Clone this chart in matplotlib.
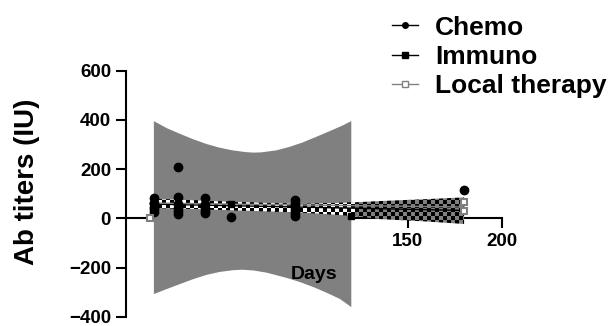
import numpy as np
import matplotlib
matplotlib.use("Agg")
import matplotlib.pyplot as plt
from matplotlib.lines import Line2D
from matplotlib.colors import ListedColormap

plt.rcParams['font.family'] = ['Liberation Sans', 'DejaVu Sans']
plt.rcParams['font.weight'] = 'bold'

# Chemo points (day, titer)
chemo_days = [15, 15, 15, 15, 15, 28, 28, 28, 28, 28, 28, 42, 42, 42, 42, 42, 56,
              90, 90, 90, 90, 90, 90, 180]
chemo_vals = [82, 62, 48, 36, 26, 210, 85, 58, 42, 28, 16, 82, 58, 42, 30, 20, 4,
              74, 60, 46, 34, 22, 10, 115]

# Immuno points
immuno_days = [15, 56, 120]
immuno_vals = [40, 58, 10]

# Local therapy points
local_days = [13, 180, 180]
local_vals = [0, 65, 30]

# gray confidence band
upper_days = [15, 22, 29, 36, 43, 50, 57, 64, 68, 72, 80, 87, 94, 101, 109, 115, 120]
band_upper = [395, 366, 343, 321, 302, 287, 276, 269, 267, 268, 276, 290, 308, 330,
              356, 376, 395]
lower_days = [15, 22, 29, 36, 43, 50, 57, 62, 68, 75, 86, 93, 100, 107, 114, 120]
band_lower = [-308, -287, -267, -247, -230, -218, -211, -209, -212, -221, -243, -260,
              -280, -303, -328, -361]

# checkered band
chk_days = [13, 30, 60, 93, 119, 135, 160, 180]
chk_upper = [78, 75, 66, 58, 64, 70, 78, 85]
chk_lower = [42, 40, 32, 24, 11, -3, -13, -23]

# regression lines
chemo_line_days = [13, 180]
chemo_line_vals = [58, 32]
local_line_days = [13, 180]
local_line_vals = [62, 46]

fig = plt.figure(figsize=(6.14, 3.26), dpi=100)
ax = fig.add_axes([0.2047, 0.0285, 0.6124, 0.7546])

# gray band as a closed polygon
poly_x = upper_days + lower_days[::-1]
poly_y = band_upper + band_lower[::-1]
ax.fill(poly_x, poly_y, color='#808080', lw=0, zorder=3)

# checkered band, clipped to the band polygon
poly = ax.fill_between(chk_days, chk_lower, chk_upper, color='none', lw=0, zorder=4)
cell_x = 4 / 1.88
cell_y = 4 / 0.246
nx = int((chk_days[-1] - chk_days[0]) / cell_x) + 2
ny = int((max(chk_upper) - min(chk_lower)) / cell_y) + 2
checker = (np.indices((ny, nx)).sum(axis=0) % 2).astype(float)
ext = [chk_days[0], chk_days[0] + nx * cell_x, min(chk_lower), min(chk_lower) + ny * cell_y]
im1 = ax.imshow(checker, extent=ext, origin='lower', cmap=ListedColormap(['black', '#808080']),
                interpolation='nearest', aspect='auto', zorder=4)
im1.set_clip_path(poly.get_paths()[0], transform=ax.transData)
# inside the gray region the light cells look white
nx2 = int((upper_days[-1] - chk_days[0]) / cell_x) + 1
ext2 = [chk_days[0], chk_days[0] + nx2 * cell_x, ext[2], ext[3]]
im2 = ax.imshow(checker[:, :nx2], extent=ext2, origin='lower',
                cmap=ListedColormap(['black', 'white']),
                interpolation='nearest', aspect='auto', zorder=4.1)
im2.set_clip_path(poly.get_paths()[0], transform=ax.transData)
ax.set_xlim(0, 200)
ax.set_ylim(-400, 600)

ax.plot(chemo_line_days, chemo_line_vals, color='black', lw=1, zorder=5)
ax.plot(local_line_days, local_line_vals, color='#808080', lw=1, zorder=5)

ax.plot(chemo_days, chemo_vals, 'o', color='black', ms=6, zorder=6, clip_on=False)
ax.plot(immuno_days, immuno_vals, 's', color='black', ms=5, zorder=6, clip_on=False)
ax.plot(local_days, local_vals, 's', mfc='white', mec='#808080', mew=1.5, ms=5,
        zorder=6, clip_on=False)

# axes styling
for s in ['top', 'right']:
    ax.spines[s].set_visible(False)
ax.spines['bottom'].set_position(('data', 0))
ax.spines['left'].set_linewidth(1.5)
ax.spines['bottom'].set_linewidth(1.5)
ax.set_xticks([150, 200])
ax.set_yticks([-400, -200, 0, 200, 400, 600])
ax.tick_params(axis='both', length=7, width=1.5, labelsize=13.5)
for lab in ax.get_xticklabels() + ax.get_yticklabels():
    lab.set_fontweight('bold')

ax.set_ylabel('Ab titers (IU)', fontsize=20, fontweight='bold')
ax.yaxis.set_label_coords(-0.262, 0.548)
ax.yaxis.label.set_va('center')
ax.text(100, -230, 'Days', ha='center', va='center', fontsize=14,
        fontweight='bold', zorder=10)

handles = [
    Line2D([], [], color='black', lw=1, marker='o', ms=4),
    Line2D([], [], color='black', lw=1, marker='s', ms=4),
    Line2D([], [], color='#808080', lw=1, marker='s', ms=5, mfc='white', mec='#808080'),
]
fig.legend(handles, ['Chemo', 'Immuno', 'Local therapy'], loc='upper left',
           bbox_to_anchor=(0.638, 0.952), frameon=False, borderpad=0,
           borderaxespad=0, handlelength=1.0, handletextpad=0.65, labelspacing=0.2,
           prop={'size': 19, 'weight': 'bold'})

fig.savefig('out.png', dpi=100)
